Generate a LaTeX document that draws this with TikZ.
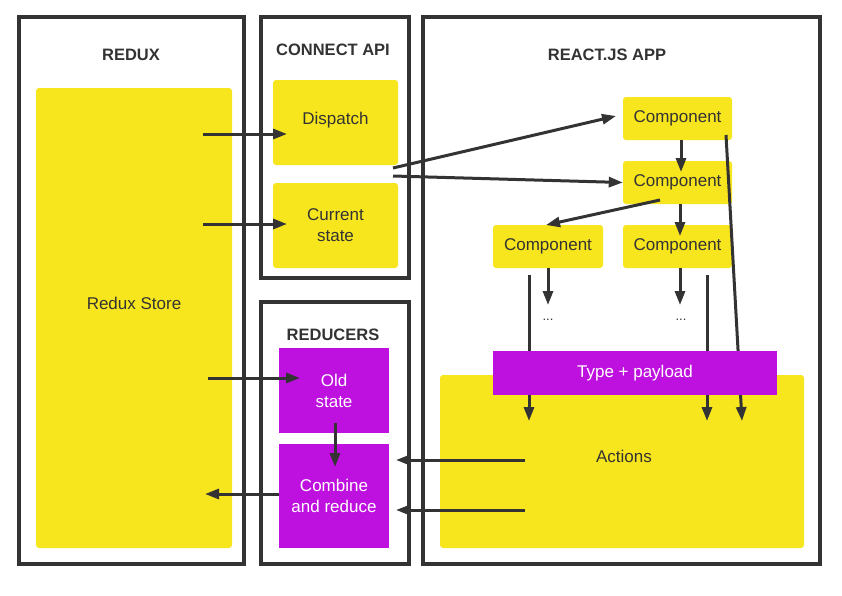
\documentclass[tikz,border=0pt]{standalone}
\usepackage{fontspec}
\setmainfont{Liberation Sans}
\usepackage{tikz}
\usetikzlibrary{arrows.meta}
\definecolor{rdxyellow}{HTML}{F7E51E}
\definecolor{rdxpurple}{HTML}{BE10DE}
\definecolor{rdxdark}{HTML}{333333}

\begin{document}
\begin{tikzpicture}[
  x=1pt,y=-1pt,
  frame/.style={draw=rdxdark,rectangle,line width=3.5pt,inner sep=0pt},
  title/.style={font=\bfseries\fontsize{16.5}{18}\selectfont,text=rdxdark},
  ybox/.style={rectangle,rounded corners=3pt,fill=rdxyellow,inner sep=0pt,align=center,font=\fontsize{17}{21}\selectfont,text=rdxdark},
  pbox/.style={rectangle,fill=rdxpurple,inner sep=0pt,align=center,font=\fontsize{17}{21}\selectfont,text=white},
  dots/.style={font=\fontsize{13}{14}\selectfont,text=rdxdark},
  arr/.style={-{Triangle[length=14pt,width=10pt]},line width=3pt,draw=rdxdark}
]
\useasboundingbox (0,0) rectangle (842,595);

% Frames
\node[frame,minimum width=225pt,minimum height=547pt] (redux) at (131.5,290.5) {};
\node[frame,minimum width=148pt,minimum height=261pt] (connect) at (335,147.5) {};
\node[frame,minimum width=148pt,minimum height=262pt] (reducers) at (335,433) {};
\node[frame,minimum width=397pt,minimum height=547pt] (reactapp) at (621.5,290.5) {};

\node[title] (tredux) at (131,55) {REDUX};
\node[title] (tconnect) at (333,50) {CONNECT API};
\node[title] (treducers) at (333,335) {REDUCERS};
\node[title] (treact) at (607,55) {REACT.JS APP};

% Redux
\node[ybox,minimum width=196pt,minimum height=460pt] (store) at (134,318) {};
\node[text=rdxdark,font=\fontsize{17}{21}\selectfont] (tstore) at (134,303) {Redux Store};

% Connect API
\node[ybox,minimum width=125pt,minimum height=85pt] (dispatch) at (335.5,122.5) {};
\node[text=rdxdark,font=\fontsize{17}{21}\selectfont] (tdispatch) at (335.5,120) {Dispatch};
\node[ybox,minimum width=125pt,minimum height=85pt] (curstate) at (335.5,225.5) {Current\\state};

% Reducers
\node[pbox,minimum width=110pt,minimum height=85pt] (oldstate) at (334,390.5) {Old\\state};
\node[pbox,minimum width=110pt,minimum height=104pt] (combine) at (334,496) {Combine\\and reduce};

% React app
\node[ybox,minimum width=109pt,minimum height=43pt] (comp1) at (677.5,118.5) {Component};
\node[ybox,minimum width=109pt,minimum height=43pt] (comp2) at (677.5,182.5) {Component};
\node[ybox,minimum width=110pt,minimum height=43pt] (comp3) at (548,246.5) {Component};
\node[ybox,minimum width=109pt,minimum height=43pt] (comp4) at (677.5,246.5) {Component};
\node[dots] (dots3) at (548,320) {...};
\node[dots] (dots4) at (681,320) {...};
\node[ybox,minimum width=364pt,minimum height=173pt] (actions) at (622,461.5) {};
\node[text=rdxdark,font=\fontsize{17}{21}\selectfont] (tactions) at (624,456) {Actions};

% Free ends
\coordinate (s1) at (203,134);  \coordinate (d1) at (287,134);
\coordinate (s2) at (203,224);  \coordinate (d2) at (287,224);
\coordinate (s3) at (208,378);  \coordinate (d3) at (300,378);
\coordinate (c1) at (393,168);  \coordinate (c2) at (393,176);
\coordinate (a1) at (525,460);  \coordinate (a2) at (525,510);
\coordinate (r1) at (529,275);  \coordinate (r1e) at (529,421);
\coordinate (r2) at (707,275);  \coordinate (r2e) at (707,421);
\coordinate (r3) at (726,135);  \coordinate (r3e) at (742,421);

% Arrows
\draw[arr] (s1) -- (d1);
\draw[arr] (s2) -- (d2);
\draw[arr] (s3) -- (d3);
\draw[arr] (c1) -- (616,116);
\draw[arr] (c2) -- (comp2.west);
\draw[arr] (comp1.south -| 681,0) -- (681,172);
\draw[arr] (660,200) -- (546,225);
\draw[arr] (comp2.south -| 680,0) -- (680,236);
\draw[arr] (comp3.south) -- (548,305);
\draw[arr] (comp4.south -| 680,0) -- (680,305);
\draw[arr] (oldstate.south -| 335,0) ++(0,-10) -- (335,467);
\draw[arr] (a1) -- (396,460);
\draw[arr] (a2) -- (396,510);
\draw[arr] (combine.west |- 0,494) -- (205,494);
\draw[arr] (r1) -- (r1e);
\draw[arr] (r2) -- (r2e);
\draw[arr] (r3) -- (r3e);

% Payload bar over the lines
\node[pbox,minimum width=284pt,minimum height=44pt] (payload) at (635,373) {Type + payload};

\end{tikzpicture}
\end{document}
